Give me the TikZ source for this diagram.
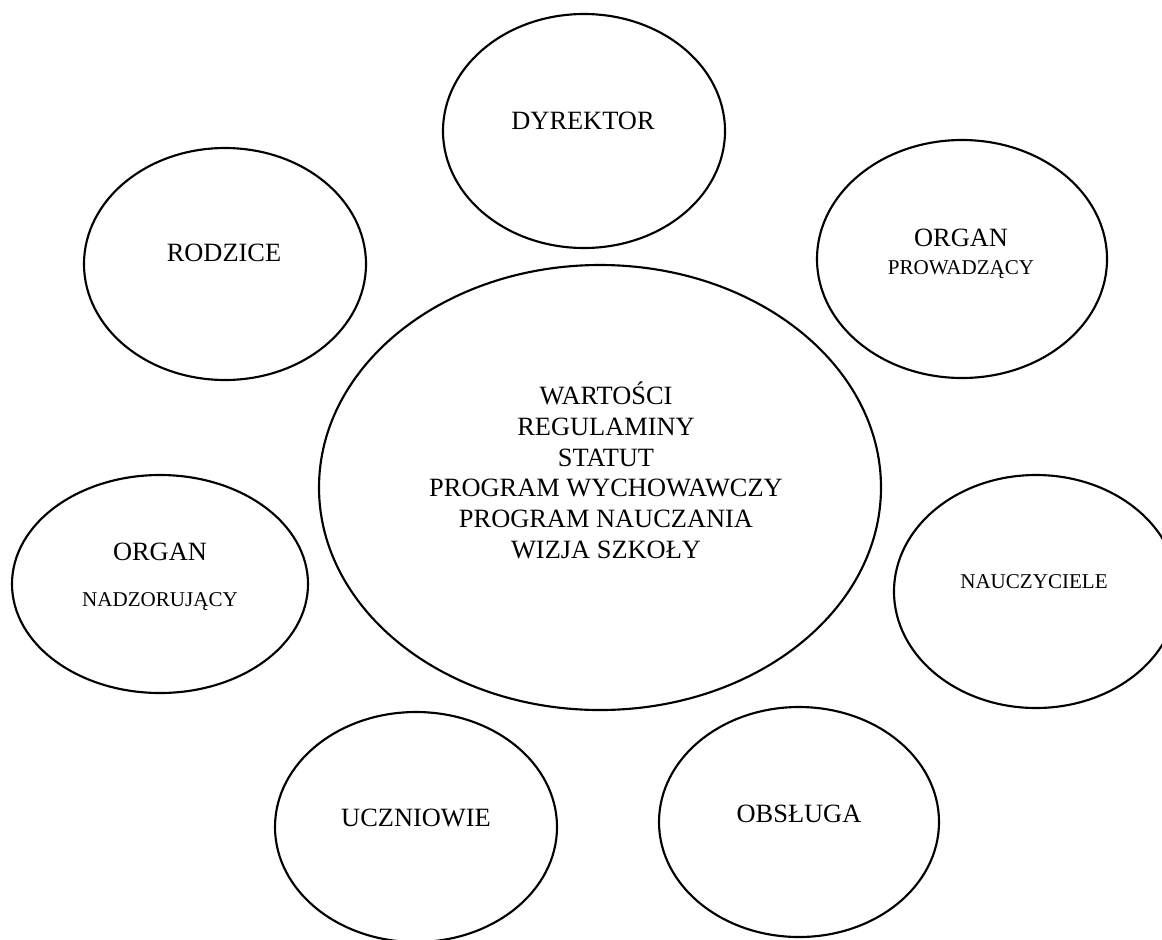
\documentclass[tikz,border=0pt]{standalone}
\usepackage{fontspec}
\setmainfont{Liberation Serif}
\usetikzlibrary{shapes.geometric}
\begin{document}
\begin{tikzpicture}[x=0.75pt,y=-0.75pt,
  % oval/.style: #1 = horizontal radius, #2 = vertical radius (in px units)
  oval/.style 2 args={draw, line width=1.6pt, ellipse, inner sep=0pt,
    minimum width=#1*1.5pt, minimum height=#2*1.5pt},
  big/.style={font=\fontsize{19.8}{23}\selectfont, anchor=base, inner sep=0pt, align=center},
  small/.style={font=\fontsize{15.8}{19}\selectfont, anchor=base, inner sep=0pt}]
\useasboundingbox (0,0) rectangle (1162,939);
\clip (0,0) rectangle (1162,939);

% surrounding ovals
\node[oval={141}{117}] (dyr)   at (584,131) {};
\node[oval={141}{116}] (rodz)  at (225,264) {};
\node[oval={145}{119}] (prow)  at (962,259) {};
\node[oval={148}{109}] (nadz)  at (160,584) {};
\node[oval={142}{116.5}] (naucz) at (1036,591.5) {};
\node[oval={141}{115}] (uczn)  at (416,827) {};
\node[oval={140}{115}] (obs)   at (799,822) {};
% central oval
\node[oval={281}{222.5}] (core) at (600,487.5) {};

% labels
\node[big] (tdyr)   at (583,129) {DYREKTOR};
\node[big] (trodz)  at (224,261.7) {RODZICE};
\node[big] (tprow1) at (961,246) {ORGAN};
\node[small] (tprow2) at (961,274) {PROWADZĄCY};
\node[big] (tnadz1) at (160,560) {ORGAN};
\node[small] (tnadz2) at (160,606.7) {NADZORUJĄCY};
\node[small] (tnaucz) at (1034,588.3) {NAUCZYCIELE};
\node[big] (tuczn)  at (416,826) {UCZNIOWIE};
\node[big] (tobs)   at (799,822.3) {OBSŁUGA};
% the base anchor of a multi-line node sits on its last line
\node[big] (tcore) at (606,558)
  {WARTOŚCI\\REGULAMINY\\STATUT\\PROGRAM WYCHOWAWCZY\\PROGRAM NAUCZANIA\\WIZJA SZKOŁY};
\end{tikzpicture}
\end{document}
